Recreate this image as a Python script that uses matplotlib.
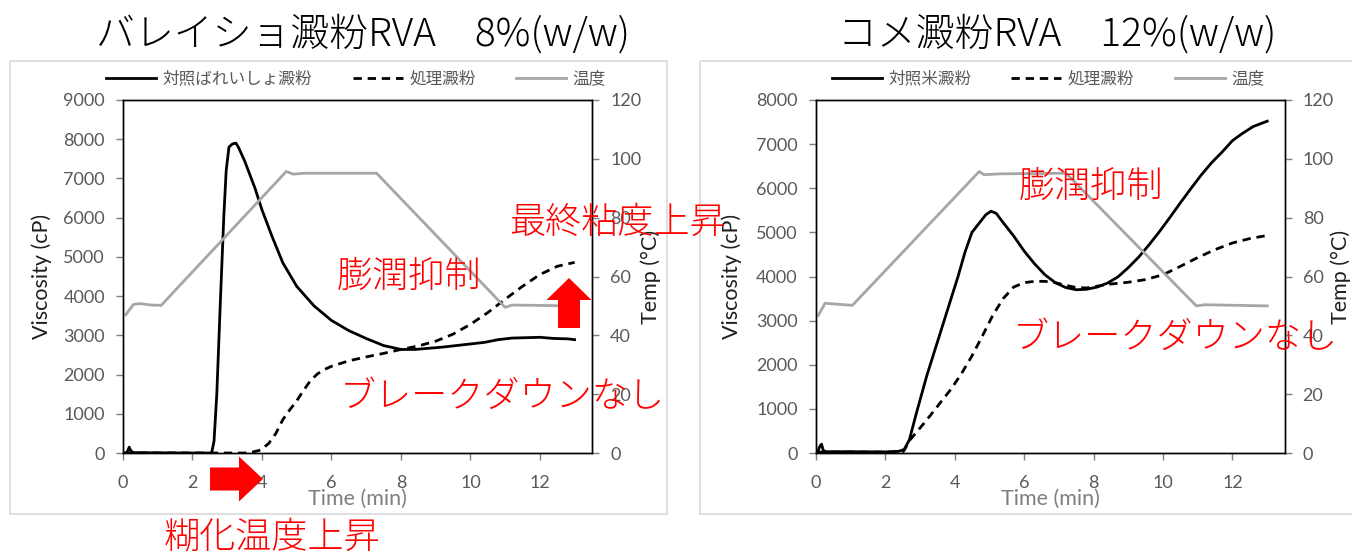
import matplotlib
matplotlib.use("Agg")
import matplotlib.pyplot as plt
from matplotlib.patches import Rectangle, FancyArrow

plt.rcParams['font.family'] = ['Lato', 'Noto Sans CJK JP', 'DejaVu Sans']
JP = ['Noto Sans CJK JP', 'DejaVu Sans']

# ---------------- data: potato starch (8% w/w) ----------------
pot_ctrl_t = [0.05, 0.12, 0.18, 0.22, 0.3, 1.0, 2.0, 2.55, 2.62, 2.7, 2.8, 2.9, 2.97, 3.05, 3.15,
              3.25, 3.32, 3.5, 3.8, 4.0, 4.3, 4.6, 5.0, 5.5, 6.0, 6.5, 7.0, 7.5, 8.0, 8.4, 8.8,
              9.2, 9.6, 10.0, 10.4, 10.8, 11.2, 11.6, 12.0, 12.4, 12.8, 13.0]
pot_ctrl_v = [0, 20, 150, 60, 10, 5, 0, 0, 300, 1500, 3800, 6000, 7200, 7800, 7880,
              7900, 7800, 7450, 6750, 6200, 5500, 4850, 4250, 3750, 3380, 3120, 2920, 2740, 2640, 2640, 2670,
              2700, 2740, 2780, 2820, 2890, 2930, 2940, 2950, 2920, 2910, 2890]
pot_trt_t = [0.05, 1.0, 2.0, 3.0, 3.6, 3.9, 4.0, 4.2, 4.4, 4.6, 4.8, 5.0, 5.2, 5.4, 5.6, 5.8, 6.0,
             6.5, 7.0, 7.5, 8.0, 8.5, 9.0, 9.5, 10.0, 10.5, 11.0, 11.5, 12.0, 12.5, 13.0]
pot_trt_v = [0, 0, 0, 0, 0, 60, 100, 250, 500, 850, 1100, 1330, 1600, 1850, 2020, 2130, 2210,
             2350, 2450, 2540, 2640, 2730, 2850, 3030, 3280, 3580, 3920, 4250, 4550, 4760, 4860]
pot_temp_t = [0.08, 0.3, 0.5, 0.8, 1.1, 4.7, 4.9, 5.2, 7.3, 11.0, 11.2, 13.0]
pot_temp_v = [47, 50.5, 50.8, 50.3, 50.2, 95.7, 94.8, 95.1, 95.1, 49.5, 50.3, 50.0]

# ---------------- data: rice starch (12% w/w) ----------------
rice_ctrl_t = [0.05, 0.12, 0.17, 0.22, 0.3, 1.0, 2.0, 2.4, 2.55, 2.7, 2.9, 3.2, 3.5, 3.8, 4.1, 4.3,
               4.5, 4.7, 4.9, 5.05, 5.2, 5.4, 5.7, 6.0, 6.3, 6.6, 6.9, 7.2, 7.5, 7.8, 8.1, 8.4,
               8.7, 9.0, 9.3, 9.6, 9.9, 10.2, 10.5, 10.8, 11.1, 11.4, 11.7, 12.0, 12.3, 12.6, 13.0]
rice_ctrl_v = [0, 150, 200, 60, 30, 30, 25, 40, 80, 300, 900, 1750, 2500, 3250, 4000, 4550,
               5000, 5200, 5400, 5480, 5430, 5220, 4920, 4580, 4290, 4040, 3860, 3750, 3700, 3710, 3760, 3850,
               3990, 4200, 4440, 4720, 5020, 5340, 5670, 5990, 6300, 6580, 6820, 7080, 7250, 7400, 7520]
rice_trt_t = [0.05, 1.0, 2.0, 2.5, 2.55, 2.7, 3.0, 3.3, 3.6, 3.9, 4.2, 4.5, 4.8, 5.1, 5.4, 5.7, 6.0,
              6.3, 6.6, 6.9, 7.2, 7.5, 7.8, 8.1, 8.5, 9.0, 9.5, 10.0, 10.5, 11.0, 11.5, 12.0, 12.5, 13.0]
rice_trt_v = [20, 20, 20, 20, 60, 280, 560, 850, 1150, 1450, 1800, 2200, 2650, 3120, 3500, 3760, 3860,
              3890, 3890, 3860, 3800, 3750, 3740, 3780, 3830, 3870, 3930, 4040, 4230, 4430, 4610, 4760, 4860, 4930]
rice_temp_t = [0.08, 0.27, 0.6, 1.06, 4.71, 4.85, 5.3, 7.21, 10.96, 11.2, 13.0]
rice_temp_v = [46.8, 50.9, 50.6, 50.2, 95.7, 94.6, 94.9, 95.1, 50.0, 50.4, 50.0]

titles = ['バレイショ澱粉RVA　8%(w/w)', 'コメ澱粉RVA　12%(w/w)']
legend_labels = [['対照ばれいしょ澱粉', '処理澱粉', '温度'], ['対照米澱粉', '処理澱粉', '温度']]
visc_max = [9000, 8000]
x_ticks = [0, 2, 4, 6, 8, 10, 12]
temp_ticks = [0, 20, 40, 60, 80, 100, 120]

W, H = 1352, 552
fig = plt.figure(figsize=(W / 100, H / 100), dpi=100)

# background overlay (frames)
bg = fig.add_axes([0, 0, 1, 1], zorder=-5)
bg.set_xlim(0, W); bg.set_ylim(H, 0); bg.axis('off')
bg.add_patch(Rectangle((10, 61), 657, 453, fill=False, ec='#d9d9d9', lw=1.2))
bg.add_patch(Rectangle((700, 61), 700, 453, fill=False, ec='#d9d9d9', lw=1.2))

panels = [
    dict(left=123, ctrl=(pot_ctrl_t, pot_ctrl_v), trt=(pot_trt_t, pot_trt_v), temp=(pot_temp_t, pot_temp_v),
         vmax=visc_max[0], title=titles[0], labels=legend_labels[0], tx=363, lx=356,
         vlab_x=42, tlab_x=650),
    dict(left=815.6, ctrl=(rice_ctrl_t, rice_ctrl_v), trt=(rice_trt_t, rice_trt_v), temp=(rice_temp_t, rice_temp_v),
         vmax=visc_max[1], title=titles[1], labels=legend_labels[1], tx=1057, lx=1048,
         vlab_x=732, tlab_x=1340),
]

ax_w = 469.0
top, bot = 100, 453
tick_col = '#595959'
for p in panels:
    ax = fig.add_axes([p['left'] / W, (H - bot) / H, ax_w / W, (bot - top) / H])
    ax2 = ax.twinx()
    l1, = ax.plot(*p['ctrl'], color='black', lw=2.0, solid_joinstyle='round')
    l2, = ax.plot(*p['trt'], color='black', lw=2.0, linestyle=(0, (3.0, 2.1)))
    l3, = ax2.plot(*p['temp'], color='#a6a6a6', lw=2.0)
    ax.set_xlim(0, 13.5)
    ax.set_ylim(0, p['vmax'])
    ax.set_yticks(list(range(0, p['vmax'] + 1, 1000)))
    ax.set_xticks(x_ticks)
    ax2.set_ylim(0, 120)
    ax2.set_yticks(temp_ticks)
    for a in (ax, ax2):
        for s in a.spines.values():
            s.set_linewidth(1.0)
            s.set_color('black')
        a.tick_params(direction='out', length=5, width=1.0, color='#7f7f7f',
                      labelsize=13, labelcolor=tick_col, pad=8)
    ax.tick_params(axis='x', pad=11)
    ax.set_xlabel('Time (min)', fontsize=15.5, color='#7f7f7f')
    ax.xaxis.set_label_coords(0.5, -(489 - bot) / (bot - top))
    ax.set_ylabel('Viscosity (cP)', fontsize=15.5, color='#1f1f1f')
    ax.yaxis.set_label_coords((p['vlab_x'] + 10 - p['left']) / ax_w, 0.5)
    ax2.set_ylabel('Temp (°C)', fontsize=15.5, color='#1f1f1f')
    ax2.yaxis.set_label_coords((p['tlab_x'] - 10 - p['left']) / ax_w, 0.5)

    fig.text(p['tx'] / W, 1 - 35 / H, p['title'], fontsize=28, family=JP,
             ha='center', va='center', color='black', fontweight='light')
    fig.legend([l1, l2, l3], p['labels'], loc='center', bbox_to_anchor=(p['lx'] / W, 1 - 79 / H),
               ncol=3, frameon=False, handlelength=3.0, handletextpad=0.4, columnspacing=2.4,
               prop={'family': JP, 'size': 12}, labelcolor=tick_col)

# foreground overlay (annotations)
fg = fig.add_axes([0, 0, 1, 1], zorder=20)
fg.set_xlim(0, W); fg.set_ylim(H, 0); fg.axis('off')
notes = [('最終粘度上昇', 617, 223), ('膨潤抑制', 409, 277), ('ブレークダウンなし', 502, 397),
         ('糊化温度上昇', 272, 537), ('膨潤抑制', 1091, 187), ('ブレークダウンなし', 1175, 338)]
for txt, x, y in notes:
    fg.text(x, y, txt, fontsize=26, family=JP, color='red', ha='center', va='center', fontweight='light')
fg.add_patch(FancyArrow(569, 328, 0, -50, width=22, head_width=45, head_length=22,
                        length_includes_head=True, color='red', lw=0))
fg.add_patch(FancyArrow(210, 479, 53, 0, width=23, head_width=45, head_length=24,
                        length_includes_head=True, color='red', lw=0))

fig.savefig('out.png', dpi=100)
